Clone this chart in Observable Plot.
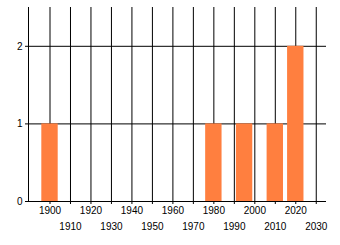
<!DOCTYPE html>
<html>
<head>
<meta charset="utf-8">
<script src="https://cdn.jsdelivr.net/npm/d3@7"></script>
<script src="https://cdn.jsdelivr.net/npm/@observablehq/plot@0.6"></script>
<style>
  html, body { margin: 0; padding: 0; background: #fff; }
  svg { display: block; }
</style>
</head>
<body>
<div id="chart"></div>
<script>
const years = [1900, 1980, 1995, 2010, 2020];
const counts = [1, 1, 1, 1, 2];
const xTicks = [1900, 1910, 1920, 1930, 1940, 1950, 1960, 1970, 1980, 1990, 2000, 2010, 2020, 2030];
const yTicks = [0, 1, 2];
const barHalfWidth = 4;

const data = years.map((y, i) => ({year: y, count: counts[i]}));
const evenTicks = xTicks.filter((t, i) => i % 2 === 0);
const oddTicks = xTicks.filter((t, i) => i % 2 === 1);

const chart = Plot.plot({
  width: 340,
  height: 245,
  marginLeft: 28,
  marginRight: 14,
  marginTop: 7,
  marginBottom: 44,
  style: {fontFamily: "'Liberation Sans', Arial, sans-serif", fontSize: "10px", color: "#000", background: "#fff"},
  x: {domain: [1889.5, 2035], label: null},
  y: {domain: [0, 2.5], label: null},
  marks: [
    Plot.gridX(xTicks, {stroke: "#000", strokeOpacity: 1, strokeWidth: 1}),
    Plot.gridY(yTicks.filter(t => t > 0), {stroke: "#000", strokeOpacity: 1, strokeWidth: 1}),
    Plot.rectY(data, {x1: d => d.year - barHalfWidth, x2: d => d.year + barHalfWidth, y: "count", fill: "#ff7f3f"}),
    Plot.axisX({ticks: xTicks, tickSize: 3, tickPadding: 2.5, tickFormat: d => evenTicks.includes(d) ? String(d) : "", stroke: "#000", label: null}),
    Plot.axisX({ticks: oddTicks, tickSize: 0, tickPadding: 21, tickFormat: d => String(d), label: null}),
    Plot.axisY({ticks: yTicks, tickSize: 3, tickPadding: 3, tickFormat: d => String(d), stroke: "#000", label: null}),
    Plot.ruleX([1889.5], {stroke: "#000"}),
    Plot.ruleY([0], {stroke: "#000"})
  ]
});
document.getElementById("chart").appendChild(chart);
</script>
</body>
</html>
